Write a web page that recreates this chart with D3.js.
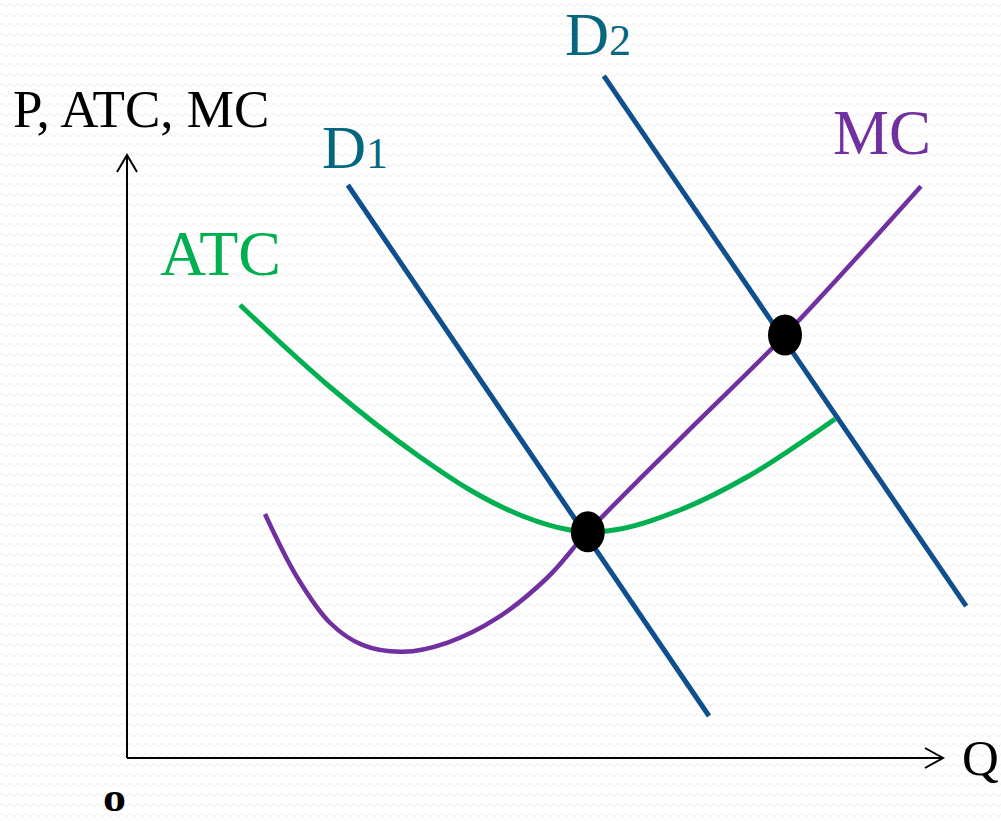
<!DOCTYPE html>
<html><head><meta charset="utf-8">
<script src="https://cdn.jsdelivr.net/npm/d3@7"></script>
<style>html,body{margin:0;padding:0;background:#fff;}svg{display:block;}</style>
</head><body>
<script>
// ---- data (in chart units) ----
const demand1 = [[27.6, 95.5], [72.75, 7.0]];
const demand2 = [[59.6, 113.7], [104.9, 25.3]];
const mcCurve = [[17.25,40.67],[21.25,30.17],[25.4,22.5],[29.5,18.8],[34.5,17.7],[40.0,19.2],[46.25,23.3],[52.5,30.0],[57.6,37.7],[69.9,54.2],[82.25,70.5],[99.25,95.3]];
const atcCurve = [[14.125,75.5],[25.375,61.83],[36.625,50.17],[42.875,44.67],[49.125,40.5],[55.375,38.0],[57.625,37.67],[60.0,37.83],[69.125,41.33],[77.5,46.83],[88.5,56.5]];
const equilibria = [[57.6,37.7],[82.25,70.5]];
const axisLabels = {y: "P, ATC, MC", x: "Q", origin: "o"};

const W = 1001, H = 821;
const svg = d3.select("body").append("svg").attr("width", W).attr("height", H);

// faint wavy background
const defs = svg.append("defs");
const pat = defs.append("pattern").attr("id","wave").attr("patternUnits","userSpaceOnUse")
  .attr("width", 8).attr("height", 10);
pat.append("path").attr("d","M0,5 Q2,2 4,5 T8,5").attr("fill","none").attr("stroke","#f0f0f0").attr("stroke-width",1.2);
svg.append("rect").attr("width",W).attr("height",H).attr("fill","#fff");
svg.append("rect").attr("width",W).attr("height",H).attr("fill","url(#wave)");

const x = d3.scaleLinear().domain([0,100]).range([127,927]);
const y = d3.scaleLinear().domain([0,100]).range([758,158]);

const serif = "'Liberation Serif','DejaVu Serif',serif";

// axes
const ax = svg.append("g").attr("stroke","#000").attr("stroke-width",2).attr("fill","none");
ax.append("path").attr("d", `M${x(0)},${y(0)} V155`);
ax.append("path").attr("d", `M${x(0)},${y(0)} H943`);
ax.append("path").attr("d", `M117,172 L${x(0)},155 L137,172`);
ax.append("path").attr("d", `M925,748 L943,${y(0)} L925,768`);

const line = d3.line().x(d=>x(d[0])).y(d=>y(d[1]));
const curve = d3.line().x(d=>x(d[0])).y(d=>y(d[1])).curve(d3.curveMonotoneX);
const curveMC = d3.line().x(d=>x(d[0])).y(d=>y(d[1])).curve(d3.curveCatmullRom.alpha(0.5));

svg.append("path").datum(atcCurve).attr("d",curve).attr("fill","none").attr("stroke","#00B050").attr("stroke-width",5);
svg.append("path").datum(mcCurve).attr("d",curveMC).attr("fill","none").attr("stroke","#7030A0").attr("stroke-width",4.5);
svg.append("path").datum(demand1).attr("d",line).attr("fill","none").attr("stroke","#0F4F8E").attr("stroke-width",5);
svg.append("path").datum(demand2).attr("d",line).attr("fill","none").attr("stroke","#0F4F8E").attr("stroke-width",5);

svg.selectAll("ellipse.eq").data(equilibria).join("ellipse").attr("class","eq")
  .attr("cx",d=>x(d[0])).attr("cy",d=>y(d[1])).attr("rx",17).attr("ry",20.5).attr("fill","#000");

// text
svg.append("text").attr("x",13).attr("y",127).attr("font-family",serif).attr("font-size",53).attr("fill","#000").text(axisLabels.y);
svg.append("text").attr("x",962).attr("y",775).attr("font-family",serif).attr("font-size",51).attr("fill","#000").text(axisLabels.x);
svg.append("text").attr("transform","translate(103,811) scale(1.15,1)").attr("font-family",serif).attr("font-weight","bold").attr("font-size",40).attr("fill","#000").text(axisLabels.origin);

svg.append("text").attr("x",160).attr("y",275).attr("font-family",serif).attr("font-size",64).attr("fill","#00B050").text("ATC");
svg.append("text").attr("x",833).attr("y",154).attr("font-family",serif).attr("font-size",63).attr("fill","#7030A0").text("MC");

const d1 = svg.append("text").attr("x",322).attr("y",168).attr("font-family",serif).attr("font-size",61).attr("fill","#05677D");
d1.append("tspan").text("D");
d1.append("tspan").attr("font-size",44).text("1");
const d2 = svg.append("text").attr("x",565).attr("y",55).attr("font-family",serif).attr("font-size",61).attr("fill","#05677D");
d2.append("tspan").text("D");
d2.append("tspan").attr("font-size",44).text("2");
</script>
</body></html>
